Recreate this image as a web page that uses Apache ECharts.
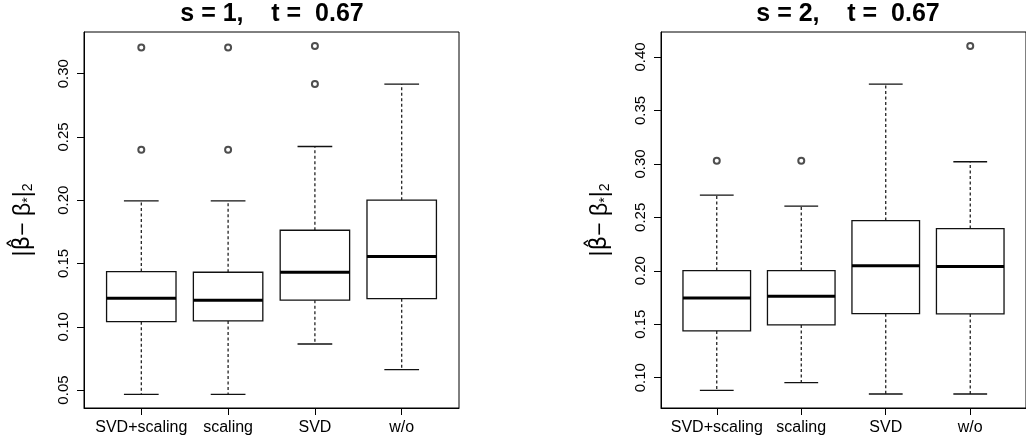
<!DOCTYPE html>
<html>
<head>
<meta charset="utf-8">
<script src="https://cdn.jsdelivr.net/npm/echarts@6/dist/echarts.min.js"></script>
<style>
html,body{margin:0;padding:0;background:#fff;}
#chart{width:1026px;height:443px;}
</style>
</head>
<body>
<div id="chart"></div>
<script>
// ---- data ----
const categories = ['SVD+scaling', 'scaling', 'SVD', 'w/o'];

// Panel 1: s = 1
const p1Title = 's = 1,    t =  0.67';
const p1Low    = [0.0466, 0.0466, 0.0864, 0.0661];
const p1Q1     = [0.1040, 0.1046, 0.1210, 0.1222];
const p1Median = [0.1225, 0.1210, 0.1431, 0.1555];
const p1Q3     = [0.1436, 0.1431, 0.1763, 0.2001];
const p1High   = [0.1995, 0.1995, 0.2425, 0.2918];
const p1Outliers = [[1, 0.3208], [1, 0.2400], [2, 0.3208], [2, 0.2400], [3, 0.3219], [3, 0.2918]];
const p1Ticks  = [0.05, 0.10, 0.15, 0.20, 0.25, 0.30];

// Panel 2: s = 2
const p2Title = 's = 2,    t =  0.67';
const p2Low    = [0.0881, 0.0953, 0.0847, 0.0847];
const p2Q1     = [0.1437, 0.1493, 0.1599, 0.1596];
const p2Median = [0.1746, 0.1762, 0.2048, 0.2039];
const p2Q3     = [0.2002, 0.2002, 0.2470, 0.2395];
const p2High   = [0.2707, 0.2604, 0.3747, 0.3020];
const p2Outliers = [[1, 0.3029], [2, 0.3029], [4, 0.4103]];
const p2Ticks  = [0.10, 0.15, 0.20, 0.25, 0.30, 0.35, 0.40];

const catPositions = [1, 2, 3, 4];

function boxData(low, q1, med, q3, high) {
  return categories.map((c, i) => [i + 1, low[i], q1[i], med[i], q3[i], high[i]]);
}

function renderBox(params, api) {
  const x = api.value(0);
  const lo = api.value(1), q1 = api.value(2), md = api.value(3), q3 = api.value(4), hi = api.value(5);
  const pLo = api.coord([x, lo]), pQ1 = api.coord([x, q1]), pMd = api.coord([x, md]);
  const pQ3 = api.coord([x, q3]), pHi = api.coord([x, hi]);
  const bl = api.coord([x - 0.4, q3]), br = api.coord([x + 0.4, q1]);
  const cl = api.coord([x - 0.2, lo])[0], cr = api.coord([x + 0.2, lo])[0];
  const mdl = api.coord([x - 0.4, md])[0], mdr = api.coord([x + 0.4, md])[0];
  const solid = {stroke: '#111', lineWidth: 1.3, fill: null};
  const dashed = {stroke: '#111', lineWidth: 1.2, lineDash: [3, 2.5], fill: null};
  return {
    type: 'group',
    children: [
      {type: 'line', shape: {x1: pQ3[0], y1: pQ3[1], x2: pHi[0], y2: pHi[1]}, style: dashed},
      {type: 'line', shape: {x1: pQ1[0], y1: pQ1[1], x2: pLo[0], y2: pLo[1]}, style: dashed},
      {type: 'line', shape: {x1: cl, y1: pHi[1], x2: cr, y2: pHi[1]}, style: solid},
      {type: 'line', shape: {x1: cl, y1: pLo[1], x2: cr, y2: pLo[1]}, style: solid},
      {type: 'rect', shape: {x: bl[0], y: bl[1], width: br[0] - bl[0], height: br[1] - bl[1]}, style: {stroke: '#111', lineWidth: 1.3, fill: '#fff'}},
      {type: 'line', shape: {x1: mdl, y1: pMd[1], x2: mdr, y2: pMd[1]}, style: {stroke: '#000', lineWidth: 3}}
    ]
  };
}

const FONT = 'Liberation Sans, Arial, sans-serif';
const yName = '{n||}{h|β\u0302}{n|− β}{s|*}{n||}{s|2}';

function makeX(gi) {
  return {
    type: 'value', gridIndex: gi, min: 0.34, max: 4.66,
    axisLine: {show: true, onZero: false, lineStyle: {color: '#000', width: 1}},
    axisTick: {show: true, length: 7, customValues: catPositions, lineStyle: {color: '#000', width: 1}},
    axisLabel: {show: true, customValues: catPositions, margin: 12, fontSize: 16, color: '#000',
      fontFamily: FONT, formatter: v => categories[Math.round(v) - 1]},
    splitLine: {show: false}
  };
}

function makeY(gi, min, max, ticks) {
  return {
    type: 'value', gridIndex: gi, min: min, max: max,
    name: yName, nameLocation: 'middle', nameRotate: 90, nameGap: 49,
    nameTextStyle: {fontSize: 23, color: '#000', fontFamily: FONT,
      rich: {
        n: {fontSize: 23, fontFamily: FONT, color: '#000'},
        h: {fontSize: 23, fontFamily: 'DejaVu Sans', color: '#000'},
        s: {fontSize: 14, verticalAlign: 'bottom', fontFamily: FONT, color: '#000'}
      }},
    axisLine: {show: true, onZero: false, lineStyle: {color: '#000', width: 1}},
    axisTick: {show: true, length: 7, customValues: ticks, lineStyle: {color: '#000', width: 1}},
    axisLabel: {show: true, customValues: ticks, rotate: 90, margin: 13, fontSize: 15, color: '#000',
      fontFamily: FONT, formatter: v => v.toFixed(2)},
    splitLine: {show: false}
  };
}

const chart = echarts.init(document.getElementById('chart'), null, {renderer: 'canvas'});
chart.setOption({
  backgroundColor: '#fff',
  animation: false,
  title: [
    {text: p1Title, left: 272, top: 2, textAlign: 'center', padding: 0,
      textStyle: {fontSize: 25, fontWeight: 'bold', color: '#000', fontFamily: FONT}},
    {text: p2Title, left: 848, top: 2, textAlign: 'center', padding: 0,
      textStyle: {fontSize: 25, fontWeight: 'bold', color: '#000', fontFamily: FONT}}
  ],
  grid: [
    {left: 84, top: 32, width: 375, height: 376, show: true, borderColor: '#000', borderWidth: 1, backgroundColor: 'transparent', containLabel: false},
    {left: 661, top: 32, width: 375, height: 376, show: true, borderColor: '#000', borderWidth: 1, backgroundColor: 'transparent', containLabel: false}
  ],
  xAxis: [makeX(0), makeX(1)],
  yAxis: [makeY(0, 0.0358, 0.3330, p1Ticks), makeY(1, 0.0716, 0.4234, p2Ticks)],
  series: [
    {type: 'custom', xAxisIndex: 0, yAxisIndex: 0, renderItem: renderBox,
      encode: {x: 0, y: [1, 2, 3, 4, 5]}, data: boxData(p1Low, p1Q1, p1Median, p1Q3, p1High), clip: false},
    {type: 'scatter', xAxisIndex: 0, yAxisIndex: 0, data: p1Outliers, symbol: 'emptyCircle', symbolSize: 6,
      itemStyle: {color: '#222', borderColor: '#222', borderWidth: 0.7}},
    {type: 'custom', xAxisIndex: 1, yAxisIndex: 1, renderItem: renderBox,
      encode: {x: 0, y: [1, 2, 3, 4, 5]}, data: boxData(p2Low, p2Q1, p2Median, p2Q3, p2High), clip: false},
    {type: 'scatter', xAxisIndex: 1, yAxisIndex: 1, data: p2Outliers, symbol: 'emptyCircle', symbolSize: 6,
      itemStyle: {color: '#222', borderColor: '#222', borderWidth: 0.7}}
  ]
});
</script>
</body>
</html>
